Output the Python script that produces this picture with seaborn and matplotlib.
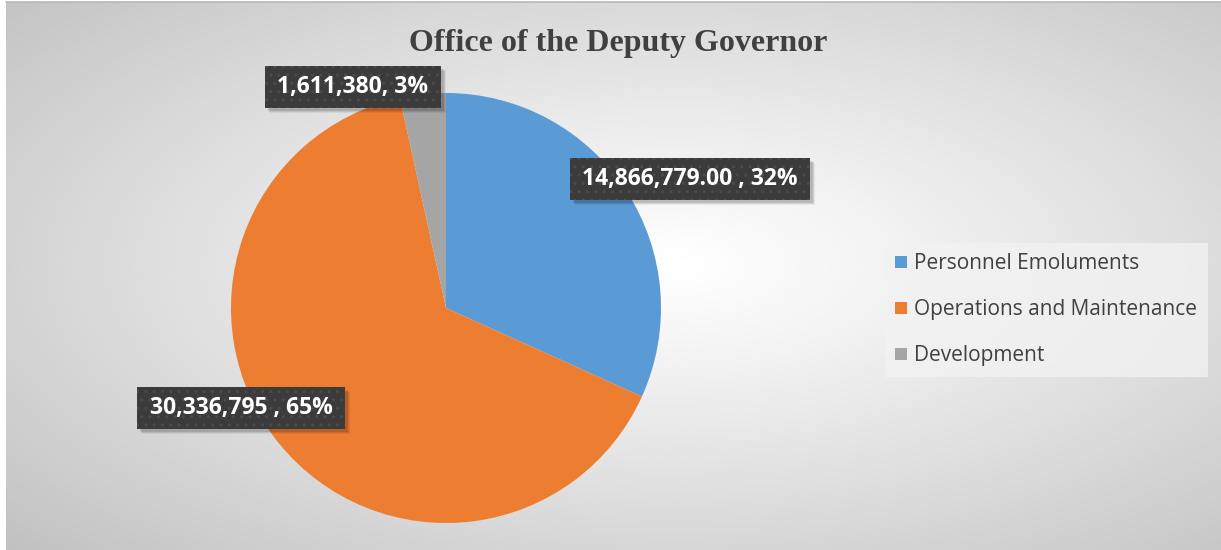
import numpy as np
import matplotlib
matplotlib.use("Agg")
import matplotlib.pyplot as plt
import matplotlib.transforms as mtransforms
import seaborn as sns

# Budget split for the office
categories = ["Personnel Emoluments", "Operations and Maintenance", "Development"]
amounts = [14866779.00, 30336795, 1611380]
amount_labels = ["14,866,779.00", "30,336,795", "1,611,380"]
colors = ["#5B9BD5", "#ED7D31", "#A5A5A5"]

sns.set_theme(style="white")
plt.rcParams["font.family"] = ["Open Sans", "DejaVu Sans"]
plt.rcParams["hatch.linewidth"] = 1.0

W, H = 1221, 550
fig = plt.figure(figsize=(W / 100, H / 100), dpi=100)
fig.patch.set_facecolor("white")

# Radial grey gradient behind the chart area
x0 = 6
bg = fig.add_axes([x0 / W, 0, (W - x0) / W, (H - 2) / H])
xx, yy = np.meshgrid(np.linspace(0, 1, 600), np.linspace(0, 1, 300))
d = np.sqrt(((xx - 0.55) / 0.55) ** 2 + ((yy - 0.48) / 0.55) ** 2) / np.sqrt(2)
d = np.clip(d, 0, 1)
shade = 1.0 - 0.25 * d ** 1.1
bg.imshow(shade, cmap="gray", vmin=0, vmax=1, aspect="auto",
          extent=[0, 1, 0, 1], origin="upper", interpolation="bicubic")
bg.set_axis_off()
fig.add_artist(plt.Line2D([x0 / W, 1], [1 - 2 / H, 1 - 2 / H],
                          color="#b8b8b8", lw=1.2, transform=fig.transFigure))

# Pie axes: centre (446, 308) px, radius 215 px
cx, cy, r = 446, 308, 215
lim = 1.2
side = 2 * lim * r
ax = fig.add_axes([(cx - lim * r) / W, (H - cy - lim * r) / H, side / W, side / H])
wedges, _ = ax.pie(amounts, colors=colors, startangle=90, counterclock=False,
                   radius=1.0, wedgeprops=dict(linewidth=0))
ax.set_xlim(-lim, lim)
ax.set_ylim(-lim, lim)
ax.set_aspect("auto")
ax.set_axis_off()

total = sum(amounts)
pcts = [round(100 * a / total) for a in amounts]
seps = [" , ", " , ", ", "]
texts = [f"{lab}{sep}{p}%" for lab, sep, p in zip(amount_labels, seps, pcts)]

# Label anchor points in pie units (x, y)
label_pos = [((690 - cx) / r, (cy - 179) / r),
             ((241 - cx) / r, (cy - 408) / r),
             ((353 - cx) / r, (cy - 87) / r)]

label_artists = []
for t, (lx, ly) in zip(texts, label_pos):
    txt = ax.text(lx, ly, t, ha="center", va="center", fontsize=16.5,
                  fontweight="bold", color="white", zorder=6,
                  bbox=dict(boxstyle="square,pad=0.55", fc="#3b3b3b",
                            ec="#4b4b4b", lw=0, hatch="..",
                            mutation_aspect=0.68))
    label_artists.append(txt)

# Soft drop shadows under the label boxes
fig.canvas.draw()
for txt in label_artists:
    ext = txt.get_bbox_patch().get_window_extent()
    for k, a in [(5, 0.06), (4, 0.08), (3, 0.12)]:
        ax.add_patch(plt.Rectangle((ext.x0 + k, ext.y0 - k), ext.width, ext.height,
                                   transform=mtransforms.IdentityTransform(),
                                   fc="black", ec="none", alpha=a, zorder=5,
                                   clip_on=False))

# Title
fig.text(618 / W, 1 - 44 / H, "Office of the Deputy Governor", ha="center",
         va="center", fontsize=23, fontweight="bold", color="#404040",
         family=["Liberation Serif", "DejaVu Serif"])

# Legend
handles = [plt.Rectangle((0, 0), 1, 1, fc=c, ec="none") for c in colors]
leg = fig.legend(handles, categories, loc="upper left",
                 bbox_to_anchor=(885 / W, 1 - 243 / H), frameon=True,
                 fontsize=15, handlelength=0.55, handleheight=0.55,
                 handletextpad=0.35, labelspacing=1.2, borderpad=0.5,
                 borderaxespad=0)
leg.get_frame().set_facecolor("#f2f2f2")
leg.get_frame().set_alpha(0.8)
leg.get_frame().set_edgecolor("none")
leg.get_frame().set_boxstyle("square", pad=0)
for t in leg.get_texts():
    t.set_color("#404040")

fig.savefig("out.png", dpi=100)
